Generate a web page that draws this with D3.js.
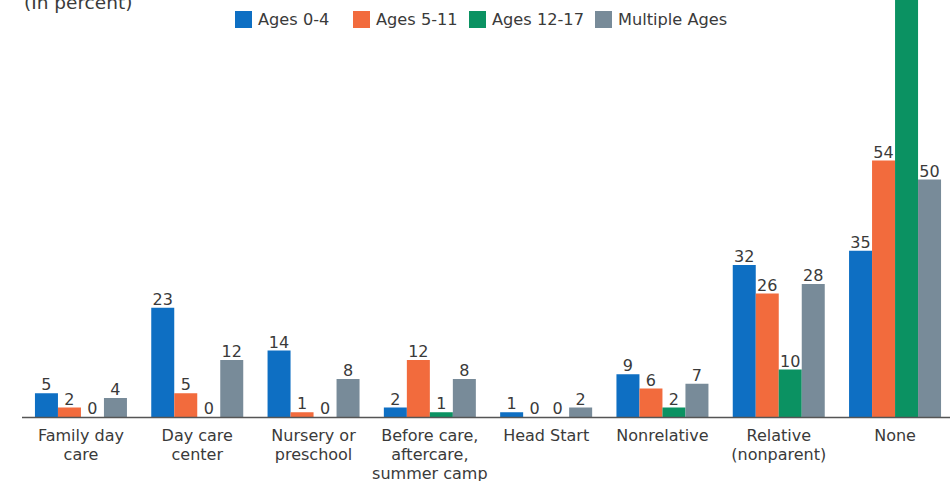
<!DOCTYPE html>
<html><head><meta charset="utf-8">
<script src="https://cdn.jsdelivr.net/npm/d3@7"></script>
<style>body{margin:0;background:#fff;}svg{display:block;}</style>
</head><body>
<script>
const categories = [["Family day","care"],["Day care","center"],["Nursery or","preschool"],["Before care,","aftercare,","summer camp"],["Head Start"],["Nonrelative"],["Relative","(nonparent)"],["None"]];
const seriesNames = ["Ages 0-4","Ages 5-11","Ages 12-17","Multiple Ages"];
const ages0_4 = [5,23,14,2,1,9,32,35];
const ages5_11 = [2,5,1,12,0,6,26,54];
const ages12_17 = [0,0,0,1,0,2,10,90];
const multiple = [4,12,8,8,2,7,28,50];
const showLabel = [[true,true,true,true,true,true,true,true],[true,true,true,true,true,true,true,true],[true,true,true,true,true,true,true,false],[true,true,true,true,true,true,true,true]];
const colors = ["#0e6fc3","#f26b3d","#0b9262","#788b99"];

const FONT="DejaVu Sans";
const W=950,H=481;
const svg=d3.select("body").append("svg").attr("width",W).attr("height",H);
const series=[ages0_4,ages5_11,ages12_17,multiple];
const idx=d3.range(categories.length);
const x0=d3.scaleBand().domain(idx).range([22.8,953.2]).paddingInner(0.209).paddingOuter(0.1045);
const x1=d3.scaleBand().domain(d3.range(4)).range([0,x0.bandwidth()]);
const y=d3.scaleLinear().domain([0,100]).range([417,-58]);

const g=svg.append("g");
idx.forEach(i=>{
  series.forEach((s,k)=>{
    const v=s[i];
    g.append("rect").attr("x",x0(i)+x1(k)).attr("width",x1.bandwidth())
      .attr("y",y(v)).attr("height",y(0)-y(v)).attr("fill",colors[k]);
    if(showLabel[k][i]) g.append("text").attr("x",x0(i)+x1(k)+x1.bandwidth()/2).attr("y",y(v)-3)
      .attr("text-anchor","middle").attr("font-family",FONT).attr("font-size",16)
      .attr("fill","#3a3a3a").text(v);
  });
});
svg.append("line").attr("x1",22).attr("x2",950).attr("y1",y(0)+0.5).attr("y2",y(0)+0.5).attr("stroke","#555").attr("stroke-width",1.5);

idx.forEach(i=>{
  const t=svg.append("text").attr("text-anchor","middle").attr("font-family",FONT).attr("font-size",16).attr("fill","#3a3a3a");
  categories[i].forEach((line,j)=>{
    t.append("tspan").attr("x",x0(i)+x0.bandwidth()/2).attr("y",441+j*19).text(line);
  });
});

svg.append("text").attr("x",24).attr("y",9).attr("font-family",FONT).attr("font-size",18.5).attr("fill","#3a3a3a").text("(In percent)");

const legX=[235,353,469,595];
seriesNames.forEach((n,k)=>{
  svg.append("rect").attr("x",legX[k]).attr("y",11).attr("width",17).attr("height",17).attr("fill",colors[k]);
  svg.append("text").attr("x",legX[k]+23).attr("y",25).attr("font-family",FONT).attr("font-size",16.2).attr("fill","#3a3a3a").text(n);
});
</script>
</body></html>
